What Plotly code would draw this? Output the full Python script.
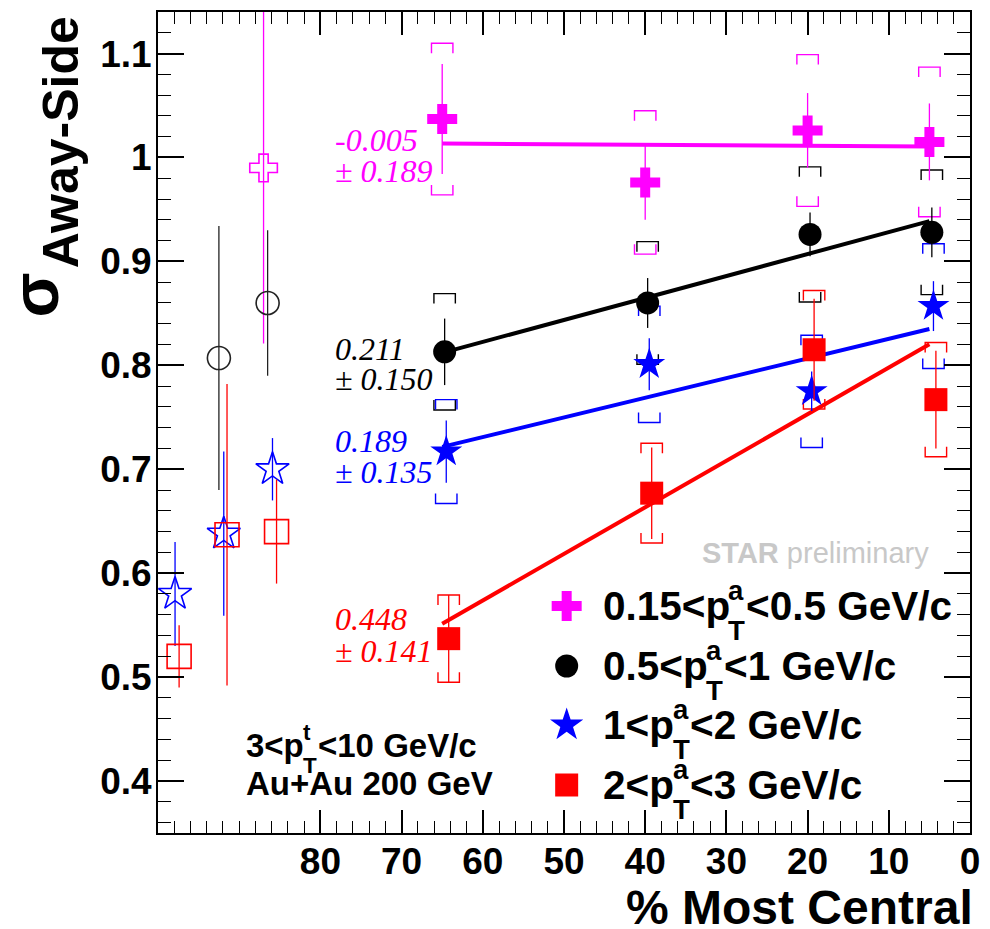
import plotly.graph_objects as go

# ---------------- data ----------------
# centrality positions (% most central), slightly offset per series
cent_mag = [65.0, 40.0, 20.0, 5.0]
cent_blk = [64.7, 39.7, 19.7, 4.7]
cent_blu = [64.5, 39.5, 19.5, 4.5]
cent_red = [64.2, 39.2, 19.2, 4.2]

sig_mag = [1.037, 0.976, 1.026, 1.015]
stat_mag = [0.053, 0.036, 0.036, 0.037]
sys_mag = [0.073, 0.069, 0.073, 0.072]

sig_blk = [0.813, 0.860, 0.926, 0.928]
stat_blk = [0.032, 0.024, 0.021, 0.024]
sys_blk = [0.056, 0.059, 0.065, 0.060]

sig_blu = [0.717, 0.801, 0.775, 0.857]
stat_blu = [0.030, 0.025, 0.019, 0.024]
sys_blu = [0.050, 0.056, 0.054, 0.060]

sig_red = [0.537, 0.677, 0.815, 0.767]
stat_red = [0.042, 0.044, 0.049, 0.047]
sys_red = [0.042, 0.048, 0.057, 0.055]

# open (reference) points on the left
open_mag_x = [87.0]
open_mag_y = [0.990]
open_mag_e = [0.169]
open_blk_x = [92.5, 86.5]
open_blk_y = [0.807, 0.860]
open_blk_e = [0.127, 0.070]
open_blu_x = [97.9, 91.9, 85.9]
open_blu_y = [0.580, 0.638, 0.700]
open_blu_e = [0.050, 0.079, 0.030]
open_red_x = [97.4, 91.5, 85.4]
open_red_y = [0.520, 0.637, 0.640]
open_red_e = [0.030, 0.145, 0.050]

# linear fits (end points)
fit_x = [65.0, 5.0]
fit_mag = [1.0135, 1.0105]
fit_blk = [0.8120, 0.9388]
fit_blu = [0.7215, 0.8350]
fit_red = [0.5514, 0.8202]

slope_txt = ["-0.005", "0.211", "0.189", "0.448"]
slope_err = ["\u00b1 0.189", "\u00b1 0.150", "\u00b1 0.135", "\u00b1 0.141"]

leg_pre = ["0.15<p", "0.5<p", "1<p", "2<p"]
leg_post = ["<0.5 GeV/c", "<1 GeV/c", "<2 GeV/c", "<3 GeV/c"]

x_tickvals = [0, 10, 20, 30, 40, 50, 60, 70, 80, 90]
x_ticktext = ["0", "10", "20", "30", "40", "50", "60", "70", "80", ""]
y_tickvals = [0.4, 0.5, 0.6, 0.7, 0.8, 0.9, 1.0, 1.1]
y_ticktext = ["0.4", "0.5", "0.6", "0.7", "0.8", "0.9", "1", "1.1"]

# ---------------- styling / layout constants ----------------
MAG, BLK, BLU, RED = "#ff00ff", "#000000", "#0000ff", "#ff0000"
SANS = "Liberation Sans, Arial, Helvetica, sans-serif"
SERIF = "Liberation Serif, Times New Roman, serif"
W, H = 990, 929
PL, PR, PT, PB = 158, 980, 12, 833
X_RANGE = [100, 0]
Y_RANGE = [0.35, 1.14]


def px2x(px):
    return X_RANGE[0] + (px - PL) / (PR - PL) * (X_RANGE[1] - X_RANGE[0])


def py2y(py):
    return Y_RANGE[1] - (py - PT) / (PB - PT) * (Y_RANGE[1] - Y_RANGE[0])


def pxp(px):
    return (px - PL) / (PR - PL)


def pyp(py):
    return (PB - py) / (PB - PT)


ARIALB = {'0': 556, '1': 556, '2': 556, '3': 556, '4': 556, '5': 556, '6': 556, '7': 556,
          '8': 556, '9': 556, '.': 278, '<': 584, 'p': 611, ' ': 278, 'G': 778, 'e': 556,
          'V': 667, '/': 278, 'c': 556, 'a': 556, 'T': 611, 't': 333, 'A': 722, 'u': 611, '+': 584}


def text_w(s, size):
    return sum(ARIALB.get(c, 556) for c in s) / 1000.0 * size


fig = go.Figure()


def brackets(xs, ys, ss, half_w=1.32, leg=0.0096):
    bx, by = [], []
    for x, y, s in zip(xs, ys, ss):
        top, bot = y + s, y - s
        bx += [x - half_w, x - half_w, x + half_w, x + half_w, None]
        by += [top - leg, top, top, top - leg, None]
        bx += [x - half_w, x - half_w, x + half_w, x + half_w, None]
        by += [bot + leg, bot, bot, bot + leg, None]
    return bx, by


series = [
    (cent_mag, sig_mag, stat_mag, sys_mag, fit_mag, MAG, "cross", 25),
    (cent_blk, sig_blk, stat_blk, sys_blk, fit_blk, BLK, "circle", 23),
    (cent_blu, sig_blu, stat_blu, sys_blu, fit_blu, BLU, "star", 24),
    (cent_red, sig_red, stat_red, sys_red, fit_red, RED, "square", 23),
]

# systematic brackets
for xs, ys, st, sy, ft, col, sym, sz in series:
    bx, by = brackets(xs, ys, sy)
    fig.add_trace(go.Scatter(x=bx, y=by, mode="lines", line=dict(color=col, width=1.4),
                             hoverinfo="skip", showlegend=False))

# open points
opens = [
    (open_mag_x, open_mag_y, open_mag_e, MAG, "cross-open", 23),
    (open_blk_x, open_blk_y, open_blk_e, "#222222", "circle-open", 23),
    (open_blu_x, open_blu_y, open_blu_e, BLU, "star-open", 25),
    (open_red_x, open_red_y, open_red_e, RED, "square-open", 24),
]
for xs, ys, es, col, sym, sz in opens:
    fig.add_trace(go.Scatter(
        x=xs, y=ys, mode="markers",
        marker=dict(symbol=sym, size=sz, color=col, line=dict(color=col, width=1.6)),
        error_y=dict(type="data", array=es, width=0, thickness=1.3, color=col),
        showlegend=False))

# fit lines
for xs, ys, st, sy, ft, col, sym, sz in series:
    fig.add_trace(go.Scatter(x=fit_x, y=ft, mode="lines", line=dict(color=col, width=4),
                             hoverinfo="skip", showlegend=False))

# filled points with stat errors
for xs, ys, st, sy, ft, col, sym, sz in series:
    fig.add_trace(go.Scatter(
        x=xs, y=ys, mode="markers",
        marker=dict(symbol=sym, size=sz, color=col, line=dict(width=0)),
        error_y=dict(type="data", array=st, width=0, thickness=1.3, color=col),
        showlegend=False))

# ---------------- manual legend ----------------
LEG_SYM_PX = 571.7
LEG_TXT_PX = 608
LEG_ROWS_PY = [606, 666, 725, 785]
for i, (xs, ys, st, sy, ft, col, sym, sz) in enumerate(series):
    fig.add_trace(go.Scatter(
        x=[px2x(LEG_SYM_PX)], y=[py2y(LEG_ROWS_PY[i])], mode="markers",
        marker=dict(symbol=sym, size=sz + (1 if sym == "star" else 0), color=col, line=dict(width=0)),
        hoverinfo="skip", showlegend=False, cliponaxis=False))


def add_text(px, py, text, size, color="black", anchor="left", family=SANS, bold=True,
             italic=False, angle=0, yanchor="middle"):
    fig.add_annotation(
        x=pxp(px), y=pyp(py), xref="paper", yref="paper", text=text, showarrow=False,
        xanchor=anchor, yanchor=yanchor, textangle=angle, borderpad=0, borderwidth=0,
        font=dict(size=size, color=color, family=family,
                  weight="bold" if bold else "normal",
                  style="italic" if italic else "normal"))


def stacked(px, py, pre, sup, sub, post, size, color="black", ratio=0.68):
    add_text(px, py, pre, size, color)
    x1 = px + text_w(pre, size)
    ss = size * ratio
    add_text(x1, py - 0.39 * size, sup, ss, color)
    add_text(x1, py + 0.61 * size, sub, ss, color)
    add_text(x1 + max(text_w(sup, ss), text_w(sub, ss)) + 1, py, post, size, color)


for i in range(4):
    stacked(LEG_TXT_PX, LEG_ROWS_PY[i], leg_pre[i], "a", "T", leg_post[i], 40.5)

# collision / trigger info
stacked(247, 745, "3<p", "t", "T", "<10 GeV/c", 33)
add_text(247, 783, "Au+Au 200 GeV", 33)

# STAR preliminary
add_text(709, 553, "<b>STAR</b> preliminary", 29, color="#c8c8c8", bold=False)

# fit slope labels
FIT_LBL_PX = 337
fit_lbl_py = [(140, 171), (349, 379), (441, 472), (619, 651)]
for i, col in enumerate([MAG, BLK, BLU, RED]):
    add_text(FIT_LBL_PX, fit_lbl_py[i][0], slope_txt[i], 32, color=col, family=SERIF,
             bold=False, italic=True)
    add_text(FIT_LBL_PX, fit_lbl_py[i][1], slope_err[i], 32, color=col, family=SERIF,
             bold=False, italic=True)

# axis titles
add_text(33, 295, "\u03c3", 66, anchor="center", angle=-90)
add_text(60, 142, "Away-Side", 50, anchor="center", angle=-90)
add_text(983, 907, "% Most Central", 48, anchor="right")

tickfont = dict(size=37, family=SANS, color="black", weight="bold")
fig.update_layout(
    width=W, height=H,
    margin=dict(l=PL, r=W - PR, t=PT, b=H - PB),
    plot_bgcolor="white", paper_bgcolor="white",
    showlegend=False,
    font=dict(family=SANS, color="black"),
    xaxis=dict(range=X_RANGE, tickmode="array", tickvals=x_tickvals, ticktext=x_ticktext,
               ticks="inside", ticklen=23, tickwidth=1.5, tickcolor="black",
               showline=True, linewidth=2, linecolor="black", mirror="allticks",
               showgrid=False, zeroline=False, tickfont=tickfont, ticklabelstandoff=-5,
               minor=dict(ticks="inside", ticklen=12, tickwidth=1.2, tickcolor="black",
                          tickmode="array", tickvals=list(range(0, 101, 2)), showgrid=False)),
    yaxis=dict(range=Y_RANGE, tickmode="array", tickvals=y_tickvals, ticktext=y_ticktext,
               ticks="inside", ticklen=26, tickwidth=1.5, tickcolor="black",
               showline=True, linewidth=2, linecolor="black", mirror="allticks",
               showgrid=False, zeroline=False, tickfont=tickfont, ticklabelstandoff=-3,
               minor=dict(ticks="inside", ticklen=13, tickwidth=1.2, tickcolor="black",
                          tickmode="array",
                          tickvals=[round(0.36 + 0.02 * k, 2) for k in range(40)],
                          showgrid=False)),
)

fig.write_html("out.html")
